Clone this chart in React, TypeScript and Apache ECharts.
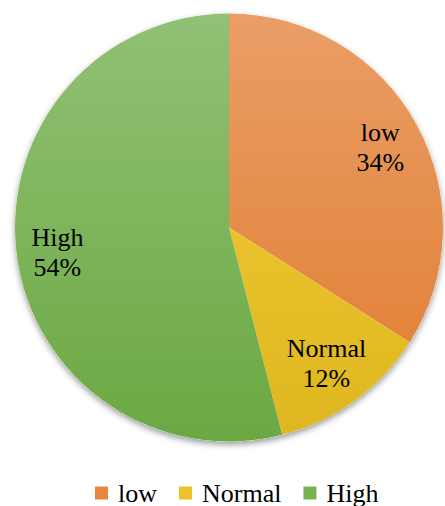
import React, { useEffect, useRef } from "react";
import * as echarts from "echarts";

const categories = ["low", "Normal", "High"];
const values = [34, 12, 54];
const topColors = ["#EA9E67", "#F6CE38", "#91C175"];
const bottomColors = ["#DF7C2E", "#DDB620", "#6BA842"];
const legendColors = ["#E5873F", "#EDC22A", "#79B253"];

const CX = 229;
const CY = 227.5;
const R = 214;
const nudgeX = [-3, -6, 3];
const nudgeY = [5, -6, 3];

export default function App() {
  const ref = useRef<HTMLDivElement>(null);
  useEffect(() => {
    document.body.style.margin = "0";
    const chart = echarts.init(ref.current!, null, { renderer: "svg" });
    const grad = (i: number) =>
      new echarts.graphic.LinearGradient(0, CY - R, 0, CY + R, [
        { offset: 0, color: topColors[i] },
        { offset: 1, color: bottomColors[i] },
      ], true);
    chart.setOption({
      animation: false,
      backgroundColor: "#ffffff",
      legend: {
        left: 95,
        top: 480,
        padding: 0,
        icon: "rect",
        itemWidth: 13,
        itemHeight: 13,
        itemGap: 22,
        selectedMode: false,
        textStyle: {
          fontFamily: "Liberation Serif",
          fontSize: 26,
          lineHeight: 26,
          color: "#000",
          padding: [0, 0, 0, 5],
        },
        data: categories.map((c, i) => ({ name: c, itemStyle: { color: legendColors[i] } })),
      },
      series: [
        {
          type: "pie",
          silent: true,
          z: 1,
          center: [CX, CY],
          radius: R,
          label: { show: false },
          labelLine: { show: false },
          itemStyle: {
            color: "#ffffff",
            shadowBlur: 6,
            shadowColor: "rgba(0,0,0,0.4)",
            shadowOffsetY: 3,
            shadowOffsetX: 0,
          },
          data: [{ value: 1, name: "__shadow" }],
          legendHoverLink: false,
        },
        {
          type: "pie",
          z: 2,
          center: [CX, CY],
          radius: R,
          startAngle: 90,
          clockwise: true,
          avoidLabelOverlap: false,
          data: categories.map((c, i) => ({
            name: c,
            value: values[i],
            itemStyle: { color: grad(i) },
          })),
          itemStyle: { borderWidth: 0 },
          label: {
            show: true,
            position: "inside",
            formatter: (p: any) => `${p.name}\n${Math.round(p.percent)}%`,
            fontFamily: "Liberation Serif",
            fontSize: 26,
            lineHeight: 30,
            color: "#000",
            align: "center",
          },
          labelLine: { show: false },
          labelLayout: (p: any) => {
            const r = p.labelRect;
            const lx = r.x + r.width / 2;
            const ly = r.y + r.height / 2;
            const i = p.dataIndex;
            return { dx: (lx - CX) * 0.6 + nudgeX[i], dy: (ly - CY) * 0.6 + nudgeY[i] };
          },
        },
      ],
    });
    return () => chart.dispose();
  }, []);
  return <div ref={ref} style={{ width: 445, height: 506, position: "absolute", left: 0, top: 0 }} />;
}
